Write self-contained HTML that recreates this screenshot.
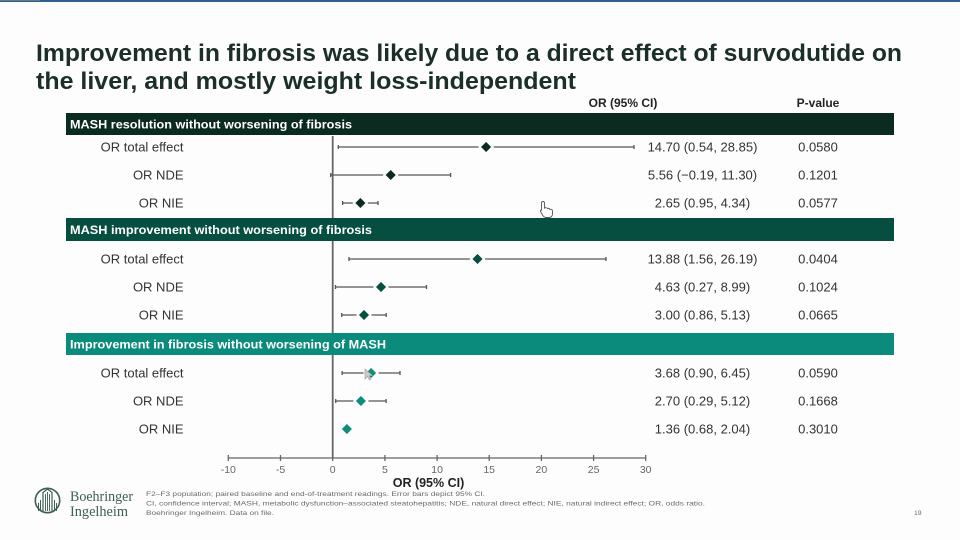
<!DOCTYPE html>
<html><head><meta charset="utf-8"><style>
html,body{margin:0;padding:0;background:#fdfdfd;}
svg{display:block;}
text{font-family:"Liberation Sans",sans-serif;}
</style></head><body>
<svg width="960" height="540" viewBox="0 0 960 540" xmlns="http://www.w3.org/2000/svg">
<rect x="0" y="0" width="960" height="540" fill="#fdfdfd"/>
<rect x="0" y="0" width="960" height="2" fill="#2f5f8f"/>
<rect x="0" y="0" width="40" height="1" fill="#888" opacity="0.6"/>

<!-- Title -->
<text x="36" y="61" font-size="24" font-weight="bold" fill="#1b2e28" textLength="866" lengthAdjust="spacingAndGlyphs">Improvement in fibrosis was likely due to a direct effect of survodutide on</text>
<text x="36" y="89" font-size="24" font-weight="bold" fill="#1b2e28" textLength="540" lengthAdjust="spacingAndGlyphs">the liver, and mostly weight loss-independent</text>

<!-- Column headers -->
<text x="623" y="107" font-size="12" font-weight="bold" fill="#222" text-anchor="middle">OR (95% CI)</text>
<text x="818" y="107" font-size="12" font-weight="bold" fill="#222" text-anchor="middle">P-value</text>

<!-- Zero line (behind bars) -->
<line x1="332.7" y1="136" x2="332.7" y2="458" stroke="#666" stroke-width="1.8"/>

<!-- Section bars -->
<rect x="66" y="113" width="828" height="22" fill="#0c2b20"/>
<text x="70" y="128.5" font-size="12" font-weight="bold" fill="#fff" textLength="282" lengthAdjust="spacingAndGlyphs">MASH resolution without worsening of fibrosis</text>
<rect x="66" y="218" width="828" height="23" fill="#064f40"/>
<text x="70" y="234" font-size="12" font-weight="bold" fill="#fff" textLength="302" lengthAdjust="spacingAndGlyphs">MASH improvement without worsening of fibrosis</text>
<rect x="66" y="333" width="828" height="22" fill="#0a8b7c"/>
<text x="70" y="348.5" font-size="12" font-weight="bold" fill="#fff" textLength="316" lengthAdjust="spacingAndGlyphs">Improvement in fibrosis without worsening of MASH</text>

<!-- Axis -->
<g stroke="#666" stroke-width="1.3">
<line x1="228.3" y1="458" x2="645.7" y2="458"/>
<line x1="228.3" y1="455" x2="228.3" y2="461"/>
<line x1="280.5" y1="455" x2="280.5" y2="461"/>
<line x1="332.7" y1="455" x2="332.7" y2="461"/>
<line x1="384.9" y1="455" x2="384.9" y2="461"/>
<line x1="437.1" y1="455" x2="437.1" y2="461"/>
<line x1="489.2" y1="455" x2="489.2" y2="461"/>
<line x1="541.4" y1="455" x2="541.4" y2="461"/>
<line x1="593.6" y1="455" x2="593.6" y2="461"/>
<line x1="645.7" y1="455" x2="645.7" y2="461"/>
</g>
<g font-size="10.5" fill="#666" text-anchor="middle">
<text x="228.3" y="473">-10</text>
<text x="280.5" y="473">-5</text>
<text x="332.7" y="473">0</text>
<text x="384.9" y="473">5</text>
<text x="437.1" y="473">10</text>
<text x="489.2" y="473">15</text>
<text x="541.4" y="473">20</text>
<text x="593.6" y="473">25</text>
<text x="645.7" y="473">30</text>
</g>
<text x="428.5" y="487" font-size="12.5" font-weight="bold" fill="#222" text-anchor="middle">OR (95% CI)</text>

<!-- Row labels -->
<g font-size="13" fill="#333" text-anchor="end">
<text x="183.5" y="151.5">OR total effect</text>
<text x="183.5" y="179.5">OR NDE</text>
<text x="183.5" y="207.5">OR NIE</text>
<text x="183.5" y="263.5">OR total effect</text>
<text x="183.5" y="291.5">OR NDE</text>
<text x="183.5" y="319.5">OR NIE</text>
<text x="183.5" y="377.5">OR total effect</text>
<text x="183.5" y="405.5">OR NDE</text>
<text x="183.5" y="433.5">OR NIE</text>
</g>

<!-- CI text -->
<g font-size="13" fill="#333" text-anchor="middle">
<text x="702.5" y="151.5">14.70 (0.54, 28.85)</text>
<text x="702.5" y="179.5">5.56 (−0.19, 11.30)</text>
<text x="702.5" y="207.5">2.65 (0.95, 4.34)</text>
<text x="702.5" y="263.5">13.88 (1.56, 26.19)</text>
<text x="702.5" y="291.5">4.63 (0.27, 8.99)</text>
<text x="702.5" y="319.5">3.00 (0.86, 5.13)</text>
<text x="702.5" y="377.5">3.68 (0.90, 6.45)</text>
<text x="702.5" y="405.5">2.70 (0.29, 5.12)</text>
<text x="702.5" y="433.5">1.36 (0.68, 2.04)</text>
<text x="818" y="151.5">0.0580</text>
<text x="818" y="179.5">0.1201</text>
<text x="818" y="207.5">0.0577</text>
<text x="818" y="263.5">0.0404</text>
<text x="818" y="291.5">0.1024</text>
<text x="818" y="319.5">0.0665</text>
<text x="818" y="377.5">0.0590</text>
<text x="818" y="405.5">0.1668</text>
<text x="818" y="433.5">0.3010</text>
</g>

<!-- Error bars -->
<g stroke="#555" stroke-width="1.3" fill="none">
<path d="M338.3 147H634M338.3 145V149M634 145V149"/>
<path d="M330.7 175H450.6M330.7 173V177M450.6 173V177"/>
<path d="M342.6 203H378M342.6 201V205M378 201V205"/>
<path d="M349 259H606M349 257V261M606 257V261"/>
<path d="M335.5 287H426.5M335.5 285V289M426.5 285V289"/>
<path d="M341.7 315H386.2M341.7 313V317M386.2 313V317"/>
<path d="M342.1 373H400M342.1 371V375M400 371V375"/>
<path d="M335.7 401H386.1M335.7 399V403M386.1 399V403"/>
</g>

<!-- Diamonds -->
<g stroke="#fdfdfd" stroke-width="2">
<path d="M486.1 140.5L492.6 147L486.1 153.5L479.6 147Z" fill="#0c2b20"/>
<path d="M390.7 168.5L397.2 175L390.7 181.5L384.2 175Z" fill="#0c2b20"/>
<path d="M360.4 196.5L366.9 203L360.4 209.5L353.9 203Z" fill="#0c2b20"/>
<path d="M477.5 252.5L484 259L477.5 265.5L471 259Z" fill="#06503f"/>
<path d="M381 280.5L387.5 287L381 293.5L374.5 287Z" fill="#06503f"/>
<path d="M364 308.5L370.5 315L364 321.5L357.5 315Z" fill="#06503f"/>
<path d="M371.1 366.5L377.6 373L371.1 379.5L364.6 373Z" fill="#0e8c7c"/>
<path d="M360.9 394.5L367.4 401L360.9 407.5L354.4 401Z" fill="#0e8c7c"/>
<path d="M346.9 422.5L353.4 429L346.9 435.5L340.4 429Z" fill="#0e8c7c"/>
</g>

<!-- cursors -->
<g transform="translate(541,201)" fill="#fff" stroke="#555" stroke-width="0.9">
<path d="M2 0.5C3 0.5 3.5 1 3.5 2V7C4 6.5 6 6.5 6.5 7.5C7.5 7 9 7.5 9 8.5C10 8 11.5 8.5 11.5 10V13C11.5 15 10 16.5 8 16.5H5C3.5 16.5 2.5 15.5 1.5 14L-0.5 10.5C-1 9.5 0 8.5 1 9.5L0.5 9V2C0.5 1 1 0.5 2 0.5Z"/>
</g>
<path d="M365 369L365 379L367.5 376.5L369.5 380L371 379.3L369.2 375.8L372.5 375.5Z" fill="#ccc" stroke="#999" stroke-width="0.6"/>

<!-- Footer logo -->
<g stroke="#3d5f55" fill="none">
<circle cx="47.5" cy="500.5" r="12.2" stroke-width="1.6"/>
<path d="M43 511V492.5L47.5 489L52 492.5V511" stroke-width="1.2"/>
<path d="M45.5 511V494M47.5 511V492M49.5 511V494" stroke-width="0.9"/>
<path d="M38.5 511V503M40.5 511V500M54.5 511V500M56.5 511V503" stroke-width="1"/>
</g>
<text x="70" y="501" font-size="15" fill="#3d5f55" textLength="63" lengthAdjust="spacingAndGlyphs" style="font-family:'Liberation Serif',serif">Boehringer</text>
<text x="70" y="516" font-size="15" fill="#3d5f55" textLength="58" lengthAdjust="spacingAndGlyphs" style="font-family:'Liberation Serif',serif">Ingelheim</text>

<g font-size="6.8" fill="#6a6a6a">
<text x="146" y="496" textLength="339" lengthAdjust="spacingAndGlyphs">F2–F3 population; paired baseline and end-of-treatment readings. Error bars depict 95% CI.</text>
<text x="146" y="505.5" textLength="559" lengthAdjust="spacingAndGlyphs">CI, confidence interval; MASH, metabolic dysfunction–associated steatohepatitis; NDE, natural direct effect; NIE, natural indirect effect; OR, odds ratio.</text>
<text x="146" y="515" textLength="128" lengthAdjust="spacingAndGlyphs">Boehringer Ingelheim. Data on file.</text>
<text x="914" y="515">19</text>
</g>
</svg>
</body></html>
